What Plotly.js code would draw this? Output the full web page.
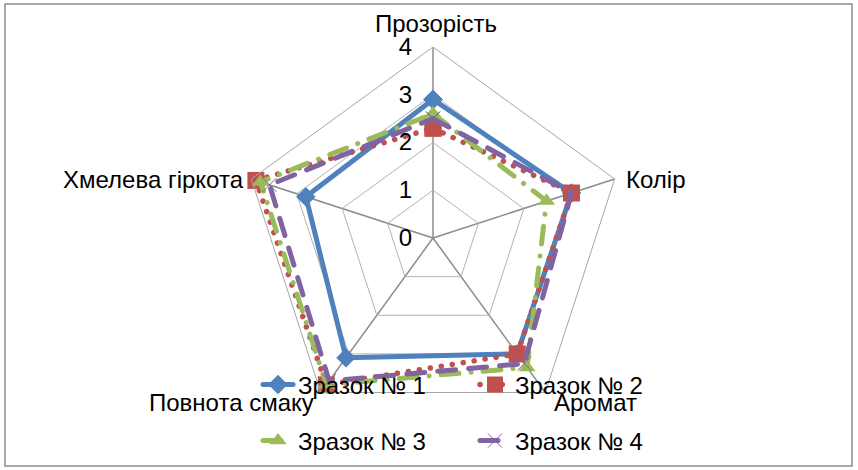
<!DOCTYPE html>
<html>
<head>
<meta charset="utf-8">
<script src="https://cdn.plot.ly/plotly-3.0.1.min.js"></script>
<style>
  html, body { margin: 0; padding: 0; background: #fff; }
  #chart { width: 858px; height: 470px; }
  path.js-line { stroke-linecap: round; stroke-linejoin: round; }
</style>
</head>
<body>
<div id="chart"></div>
<script>
const categories = ['Прозорість', 'Колір', 'Аромат', 'Повнота смаку', 'Хмелева гіркота'];
const seriesNames = ['Зразок № 1', 'Зразок № 2', 'Зразок № 3', 'Зразок № 4'];
const sample1 = [2.9, 3.05, 3.0, 3.1, 2.8];
const sample2 = [2.3, 3.05, 3.0, 3.8, 3.9];
const sample3 = [2.6, 2.5, 3.35, 3.8, 3.8];
const sample4 = [2.5, 3.05, 3.25, 3.7, 3.6];
const radialTicks = [0, 1, 2, 3, 4];

const allValues = [sample1, sample2, sample3, sample4];
const colors = ['#4F81BD', '#C0504D', '#9BBB59', '#8064A2'];
const dashes = ['solid', '0.1px,11px', '18px,12px,0.1px,12px', '18px,13px'];
const widths = [5, 5.5, 5, 5];
const markers = [
  {symbol: 'diamond', size: 15, color: colors[0]},
  {symbol: 'square', size: 17, color: colors[1]},
  {symbol: 'triangle-up', size: 15, color: colors[2]},
  {symbol: 'x-thin', size: 14, color: colors[3], line: {color: colors[3], width: 1}}
];
const legends = ['legend', 'legend', 'legend2', 'legend2'];

const closed = arr => arr.concat([arr[0]]);

const traces = allValues.map((vals, i) => ({
  type: 'scatterpolar',
  mode: 'lines+markers',
  name: seriesNames[i],
  r: closed(vals),
  theta: closed(categories),
  line: {color: colors[i], width: widths[i], dash: dashes[i]},
  marker: markers[i],
  legend: legends[i],
  cliponaxis: false
}));

const W = 858, H = 470;
const cx = 433, cy = 238, R = 191;

// category label placement (text only): [x, y, xanchor]
const labelPos = [
  [436, 23, 'center'],
  [624, 179, 'left'],
  [552, 402, 'left'],
  [316, 402, 'right'],
  [246, 179, 'right']
];
const annotations = categories.map((c, i) => ({
  text: c, showarrow: false, xref: 'paper', yref: 'paper',
  x: labelPos[i][0] / W, y: (H - labelPos[i][1]) / H,
  xanchor: labelPos[i][2], yanchor: 'middle',
  font: {size: 24, color: '#000'}
}));

const layout = {
  width: W, height: H,
  margin: {l: 0, r: 0, t: 0, b: 0},
  paper_bgcolor: '#ffffff',
  plot_bgcolor: '#ffffff',
  font: {family: '"Liberation Sans", Arial, sans-serif', size: 24, color: '#000'},
  showlegend: true,
  polar: {
    domain: {x: [(cx - R) / W, (cx + R) / W], y: [(H - cy - R) / H, (H - cy + R) / H]},
    gridshape: 'linear',
    bgcolor: 'rgba(0,0,0,0)',
    radialaxis: {
      range: [0, 4],
      tickvals: radialTicks,
      ticktext: radialTicks.map(String),
      angle: 90,
      side: 'counterclockwise',
      tickangle: 90,
      showline: false,
      ticks: 'outside',
      ticklen: 12,
      tickcolor: 'rgba(0,0,0,0)',
      gridcolor: '#b3b3b3',
      gridwidth: 1,
      tickfont: {size: 24, color: '#000'}
    },
    angularaxis: {
      type: 'category',
      categoryarray: categories,
      rotation: 90,
      direction: 'clockwise',
      showline: true,
      linecolor: '#a6a6a6',
      linewidth: 1,
      gridcolor: '#8c8c8c',
      gridwidth: 1.5,
      ticks: '',
      showticklabels: false
    }
  },
  legend: {
    orientation: 'h',
    x: 258 / W, xanchor: 'left',
    y: (H - 385) / H, yanchor: 'middle',
    bgcolor: 'rgba(0,0,0,0)',
    entrywidth: 172,
    font: {size: 24, color: '#000'},
    traceorder: 'normal'
  },
  legend2: {
    orientation: 'h',
    x: 258 / W, xanchor: 'left',
    y: (H - 441) / H, yanchor: 'middle',
    bgcolor: 'rgba(0,0,0,0)',
    entrywidth: 172,
    font: {size: 24, color: '#000'},
    traceorder: 'normal'
  },
  annotations: annotations,
  shapes: [{
    type: 'rect', xref: 'paper', yref: 'paper',
    x0: 5 / W, x1: 852 / W, y0: 4 / H, y1: (H - 4) / H,
    line: {color: '#8c8c8c', width: 1.5}, fillcolor: 'rgba(0,0,0,0)', layer: 'below'
  }]
};

Plotly.newPlot('chart', traces, layout, {staticPlot: true, displayModeBar: false});
</script>
</body>
</html>
